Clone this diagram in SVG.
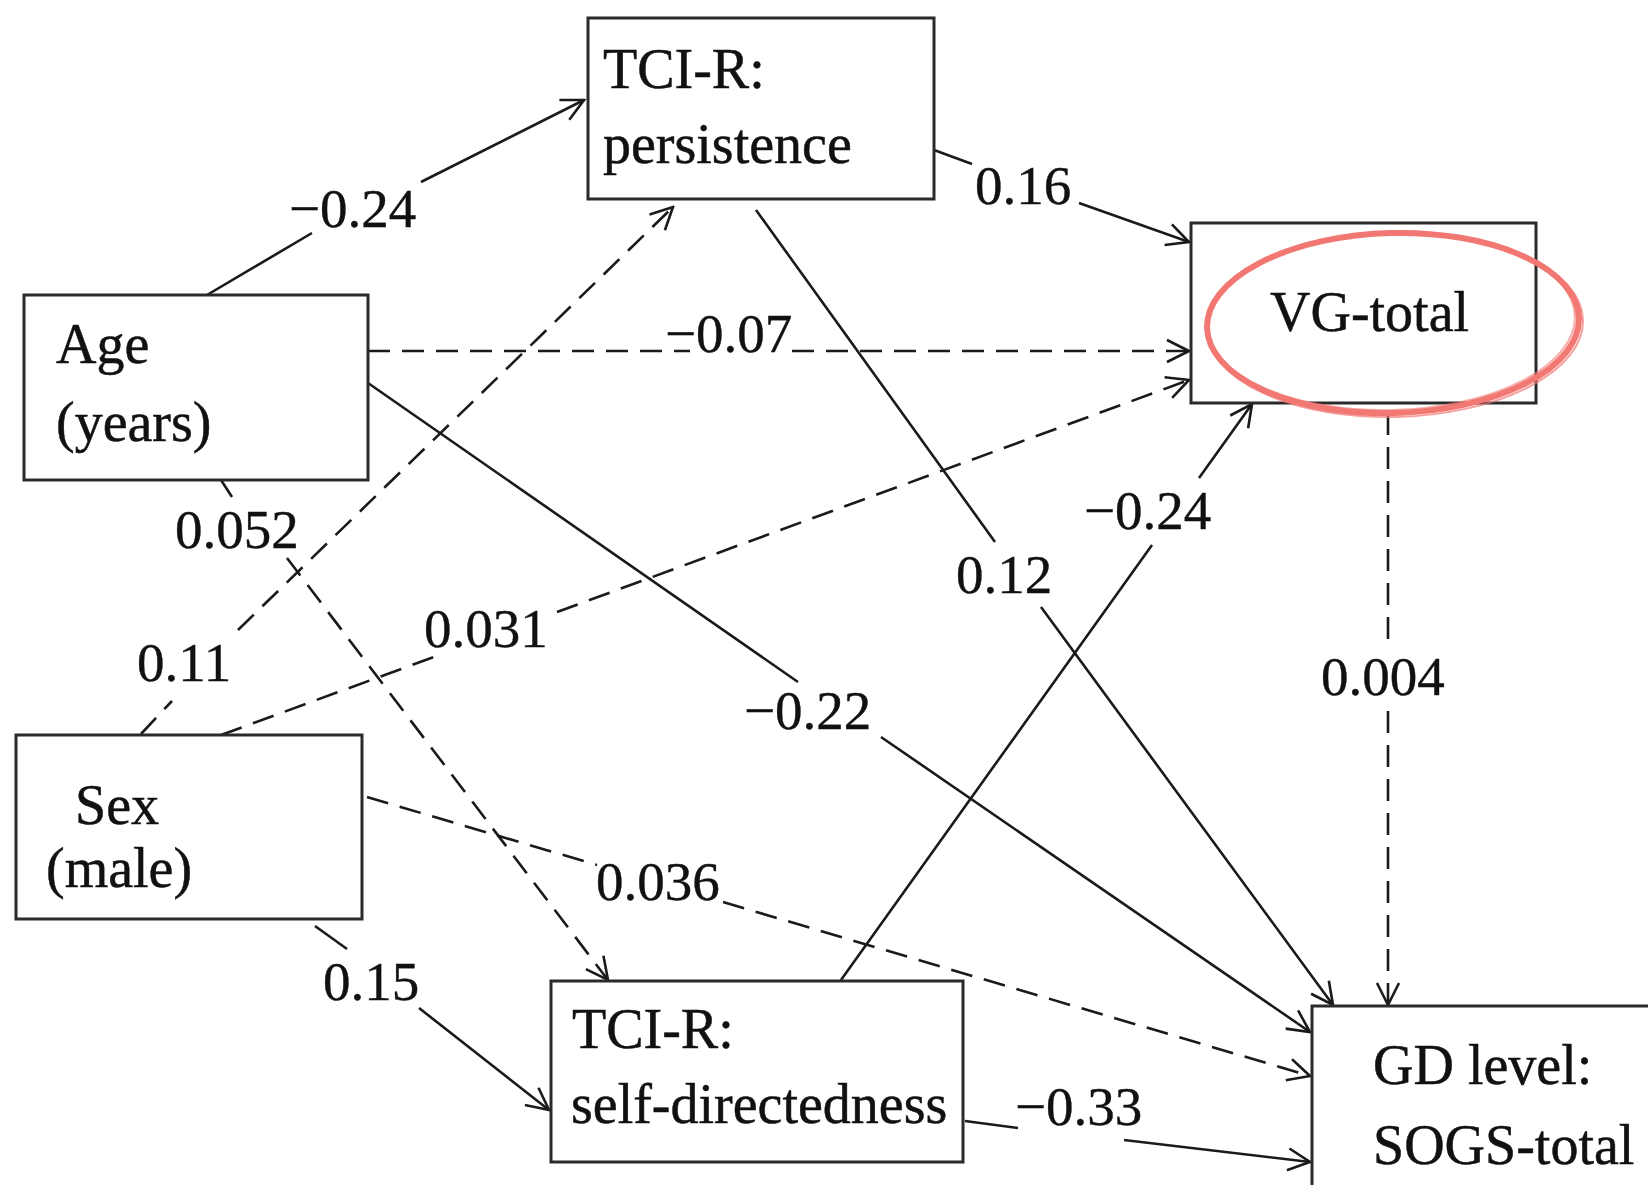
<svg xmlns="http://www.w3.org/2000/svg" width="1648" height="1185" viewBox="0 0 1648 1185">
  <style>
    .box { fill: #ffffff; stroke: #2a2a2a; stroke-width: 3; }
    .txt { font-family: "Liberation Serif", "Times New Roman", serif; font-size: 56px; fill: #111111; stroke: #111111; stroke-width: 0.5; }
    .lbl { font-family: "Liberation Serif", "Times New Roman", serif; font-size: 55px; fill: #111111; stroke: #111111; stroke-width: 0.4; }
    .solid { fill: none; stroke: #1a1a1a; stroke-width: 2.6; marker-end: url(#arrow); }
    .dash { fill: none; stroke: #1a1a1a; stroke-width: 2.6; stroke-dasharray: 22 12; marker-end: url(#arrow); }
    .ring { fill: none; stroke: #f27873; }
  </style>
  <defs>
    <marker id="arrow" markerUnits="userSpaceOnUse" viewBox="-24 -13 26 26" refX="0" refY="0" markerWidth="26" markerHeight="26" orient="auto">
      <path d="M -22 -11 L 0 0 L -22 11" fill="none" stroke="#1a1a1a" stroke-width="2.6" stroke-dasharray="none"/>
    </marker>
  </defs>
  <rect width="1648" height="1185" fill="#ffffff"/>

  <!-- path coefficients -->
  <g id="connectors">
    <path class="solid" d="M 207 295 L 312 233 M 421 182 L 584 100"/>
    <path class="solid" d="M 934 150 L 972 164 M 1079 203 L 1189 242"/>
    <path class="dash" d="M 368 351 L 690 351 M 792 351 L 1189 351"/>
    <path class="solid" d="M 756 210 L 995 542 M 1041 607 L 1333 1005"/>
    <path class="solid" d="M 368 383 L 798 682 M 881 737 L 1310 1032"/>
    <path class="dash" d="M 141 734 L 172 701 M 238 630 L 673 207"/>
    <path class="dash" d="M 221 735 L 442 654 M 557 612 L 1189 380"/>
    <path class="dash" d="M 221 480 L 232 497 M 287 558 L 608 980"/>
    <path class="dash" d="M 367 797 L 597 865 M 723 902 L 1310 1076"/>
    <path class="solid" d="M 315 926 L 347 949 M 419 1008 L 549 1110"/>
    <path class="solid" d="M 841 980 L 1152 545 M 1199 478 L 1252 404"/>
    <path class="solid" d="M 965 1121 L 1018 1128 M 1124 1140 L 1310 1162"/>
    <path class="dash" d="M 1388 413 L 1388 643 M 1388 711 L 1388 1005"/>

    <text class="lbl" x="289" y="227">−0.24</text>
    <text class="lbl" x="975" y="204">0.16</text>
    <text class="lbl" x="665" y="352">−0.07</text>
    <text class="lbl" x="175" y="548">0.052</text>
    <text class="lbl" x="137" y="681">0.11</text>
    <text class="lbl" x="424" y="647">0.031</text>
    <text class="lbl" x="744" y="729">−0.22</text>
    <text class="lbl" x="596" y="900">0.036</text>
    <text class="lbl" x="323" y="1000">0.15</text>
    <text class="lbl" x="956" y="593">0.12</text>
    <text class="lbl" x="1084" y="529">−0.24</text>
    <text class="lbl" x="1321" y="695">0.004</text>
    <text class="lbl" x="1015" y="1125">−0.33</text>
  </g>

  <g id="node-persistence">
    <rect class="box" x="588" y="18" width="346" height="181"/>
    <text class="txt" x="603" y="88">TCI-R:</text>
    <text class="txt" x="603" y="163">persistence</text>
  </g>

  <g id="node-age">
    <rect class="box" x="24" y="295" width="344" height="185"/>
    <text class="txt" x="56" y="363">Age</text>
    <text class="txt" x="56" y="441">(years)</text>
  </g>

  <g id="node-vg">
    <rect class="box" x="1191" y="223" width="345" height="180"/>
    <text class="txt" x="1270" y="331">VG-total</text>
  </g>

  <g id="node-sex">
    <rect class="box" x="16" y="735" width="346" height="184"/>
    <text class="txt" x="75" y="824">Sex</text>
    <text class="txt" x="46" y="887">(male)</text>
  </g>

  <g id="node-selfdirectedness">
    <rect class="box" x="551" y="981" width="412" height="181"/>
    <text class="txt" x="572" y="1048">TCI-R:</text>
    <text class="txt" x="571" y="1123">self-directedness</text>
  </g>

  <g id="node-gd">
    <rect class="box" x="1312" y="1006" width="400" height="250"/>
    <text class="txt" x="1373" y="1084">GD level:</text>
    <text class="txt" x="1373" y="1164">SOGS-total</text>
  </g>

  <!-- hand-drawn highlight ring around VG-total -->
  <g id="highlight" transform="rotate(-1.5 1393 323)">
    <ellipse class="ring" cx="1393" cy="323" rx="186" ry="90" stroke-width="6"/>
    <ellipse class="ring" cx="1395" cy="325" rx="188" ry="92" stroke-width="2" opacity="0.7"/>
    <ellipse class="ring" cx="1391" cy="321" rx="184" ry="89" stroke-width="2" opacity="0.6"/>
  </g>
</svg>
